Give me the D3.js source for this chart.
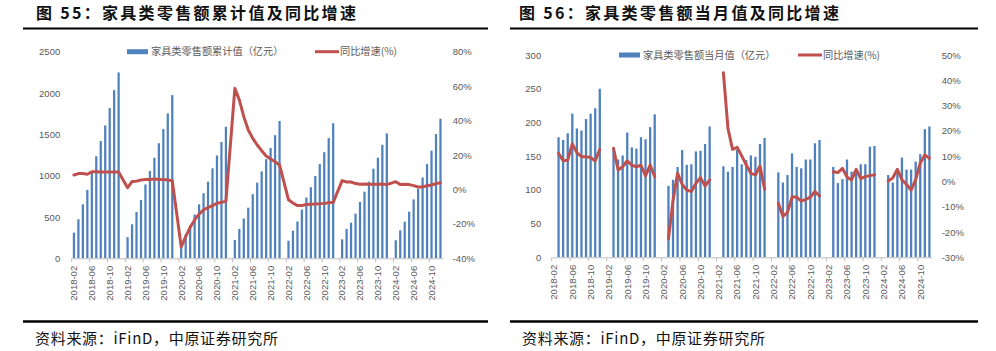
<!DOCTYPE html>
<html><head><meta charset="utf-8">
<script src="https://cdn.jsdelivr.net/npm/d3@7"></script>
<style>
html,body{margin:0;padding:0;background:#fff;}
svg{display:block;}
</style></head>
<body>
<svg id="c" width="996" height="351"></svg>
<script>
// ---------- DATA ----------
const categories = [
"2018-02","2018-03","2018-04","2018-05","2018-06","2018-07","2018-08","2018-09","2018-10","2018-11","2018-12",
"2019-01","2019-02","2019-03","2019-04","2019-05","2019-06","2019-07","2019-08","2019-09","2019-10","2019-11","2019-12",
"2020-01","2020-02","2020-03","2020-04","2020-05","2020-06","2020-07","2020-08","2020-09","2020-10","2020-11","2020-12",
"2021-01","2021-02","2021-03","2021-04","2021-05","2021-06","2021-07","2021-08","2021-09","2021-10","2021-11","2021-12",
"2022-01","2022-02","2022-03","2022-04","2022-05","2022-06","2022-07","2022-08","2022-09","2022-10","2022-11","2022-12",
"2023-01","2023-02","2023-03","2023-04","2023-05","2023-06","2023-07","2023-08","2023-09","2023-10","2023-11","2023-12",
"2024-01","2024-02","2024-03","2024-04","2024-05","2024-06","2024-07","2024-08","2024-09","2024-10","2024-11","2024-12"];

// Chart 55: cumulative retail sales (亿元) and cumulative YoY (%)
const cumValues = [
310,472,653,828,1036,1235,1419,1608,1818,2035,2249,
null,256,411,560,705,893,1056,1217,1392,1564,1753,1975,
null,175,290,400,530,653,788,927,1088,1244,1408,1592,
null,221,355,482,613,776,915,1052,1200,1335,1490,1661,
null,213,334,446,590,735,860,996,1140,1284,1455,1634,
null,230,355,431,540,681,806,927,1084,1217,1374,1511,
null,218,339,443,564,713,842,979,1140,1302,1503,1689];
const cumYoY = [
8.4,9.2,9.2,8.8,10.3,10.3,10.1,10.1,10.1,10.1,10.1,
null,1.0,4.6,4.8,5.5,5.8,5.8,6.0,5.8,5.7,5.5,5.1,
null,-33.4,-27.4,-22.0,-17.7,-14.3,-11.9,-10.6,-9.4,-8.0,-7.5,-6.9,
null,58.7,52.0,42.3,34.5,29.7,25.8,22.5,19.4,17.7,16.1,14.2,
null,-6.0,-7.9,-9.4,-9.3,-8.8,-8.6,-8.4,-8.3,-8.1,-7.8,-7.5,
null,5.1,4.3,4.3,3.4,3.0,3.2,3.0,3.0,3.0,3.2,2.8,
null,4.5,2.8,3.0,2.8,2.2,1.4,1.4,2.2,2.6,3.4,3.8];

// Chart 56: monthly retail sales (亿元) and monthly YoY (%)
const monValues = [
null,178,174,184,213,191,188,205,213,221,250,
null,null,160,145,151,185,163,161,178,175,193,212,
null,null,106,115,134,159,137,138,157,158,168,194,
null,null,135,127,134,159,138,144,151,149,168,177,
null,null,126,111,122,154,134,132,145,145,169,174,
null,null,134,110,116,145,127,131,138,138,164,165,
null,null,122,111,125,148,130,130,142,153,190,194];
const monYoY = [
null,11.1,8.2,8.4,14.8,11.4,9.8,9.8,9.5,8.1,12.7,
null,null,13.1,4.5,5.8,8.2,6.4,5.8,6.4,2.2,6.5,1.9,
null,null,-22.8,-7.5,3.2,-1.2,-3.4,-4.0,-0.7,1.5,-1.8,0.6,
null,null,43.0,21.0,12.7,13.5,10.1,6.5,3.2,2.6,6.1,-3.1,
null,null,-8.6,-13.8,-12.2,-6.2,-6.2,-7.8,-7.1,-6.2,-4.0,-5.7,
null,null,3.8,3.5,5.2,1.7,0.6,4.8,1.1,1.9,2.3,2.6,
null,null,0.2,1.4,4.8,0.7,-1.2,-3.4,0.7,7.3,10.5,9.1];

const leftTicks1 = [0,500,1000,1500,2000,2500];
const rightTicks1 = [-40,-20,0,20,40,60,80];
const leftTicks2 = [0,50,100,150,200,250,300];
const rightTicks2 = [-30,-20,-10,0,10,20,30,40,50];

const titles = ["图 55：家具类零售额累计值及同比增速","图 56：家具类零售额当月值及同比增速"];
const barLegends = ["家具类零售额累计值（亿元）","家具类零售额当月值（亿元）"];
const lineLegend = "同比增速(%)";
const sourceText = "资料来源：iFinD，中原证券研究所";

// ---------- DRAW ----------
const svg = d3.select("#c");
svg.append("rect").attr("width",996).attr("height",351).attr("fill","#fff");
const BLUE = "#4f81bd", RED = "#c0504d", GREY = "#595959";
const cjk = "'Noto Sans CJK SC','Noto Sans',sans-serif";
const lat = "'Liberation Sans',Arial,sans-serif";
const tickCats = categories.filter((c,i)=> i%4===0);

function drawPanel(o){
  const g = svg.append("g");
  // title
  g.append("text").attr("x",o.titleX).attr("y",18.5)
    .attr("font-family",cjk).attr("font-weight","bold").attr("font-size",16)
    .attr("letter-spacing","2.3px").attr("fill","#111").text(o.title);
  g.append("line").attr("x1",o.ruleX0).attr("x2",o.ruleX1).attr("y1",28.5).attr("y2",28.5)
    .attr("stroke","#000").attr("stroke-width",2);
  g.append("line").attr("x1",o.ruleX0).attr("x2",o.ruleX1).attr("y1",321.5).attr("y2",321.5)
    .attr("stroke","#000").attr("stroke-width",2.5);
  g.append("text").attr("x",o.srcX).attr("y",343.5)
    .attr("font-family",cjk).attr("font-size",15).attr("letter-spacing","0.7px")
    .attr("fill","#111").text(sourceText);

  const x = d3.scaleBand().domain(categories).range([o.x0,o.x1]).paddingInner(0.5).paddingOuter(0.25);
  const yL = d3.scaleLinear().domain(o.leftDomain).range([o.yB,o.yT]);
  const yR = d3.scaleLinear().domain(o.rightDomain).range([o.yB,o.yT]);

  // bars
  const bd = categories.map((c,i)=>({c,v:o.bars[i]})).filter(d=>d.v!=null);
  g.append("g").selectAll("rect").data(bd).join("rect")
    .attr("x",d=>x(d.c)).attr("width",x.bandwidth())
    .attr("y",d=>yL(d.v)).attr("height",d=>yL(0)-yL(d.v))
    .attr("fill",BLUE);

  // x axis
  const xa = g.append("g").attr("transform",`translate(0,${o.yB})`)
    .call(d3.axisBottom(x).tickValues(tickCats).tickSize(4).tickSizeOuter(0));
  xa.select(".domain").attr("stroke","#bfbfbf");
  xa.selectAll(".tick line").attr("stroke","#bfbfbf").attr("transform",`translate(${-x.step()/2},0)`);
  xa.selectAll(".tick text").attr("transform","rotate(-90)").attr("text-anchor","end")
    .attr("x",-7.5).attr("y",0).attr("dy","0.35em")
    .attr("font-family",lat).attr("font-size",9.5).attr("fill",GREY);

  // left axis
  const la = g.append("g").attr("transform",`translate(${o.x0},0)`)
    .call(d3.axisLeft(yL).tickValues(o.leftTicks).tickSize(0).tickPadding(o.padL).tickFormat(d=>String(d)));
  la.select(".domain").remove();
  la.selectAll("text").attr("font-family",lat).attr("font-size",9.5).attr("fill",GREY);
  // right axis
  const ra = g.append("g").attr("transform",`translate(${o.x1},0)`)
    .call(d3.axisRight(yR).tickValues(o.rightTicks).tickSize(0).tickPadding(o.padR).tickFormat(d=>d+"%"));
  ra.select(".domain").remove();
  ra.selectAll("text").attr("font-family",lat).attr("font-size",9.5).attr("fill",GREY);

  // line
  const ld = categories.map((c,i)=>({c,v:o.line[i]}));
  const lineGen = d3.line().x(d=>x(d.c)+x.bandwidth()/2).y(d=>yR(d.v));
  let path;
  if(o.connect){
    path = lineGen(ld.filter(d=>d.v!=null));
  } else {
    path = lineGen.defined(d=>d.v!=null)(ld);
  }
  g.append("path").attr("d",path).attr("fill","none").attr("stroke",RED)
    .attr("stroke-width",3).attr("stroke-linejoin","round").attr("stroke-linecap","round");

  // legend
  g.append("rect").attr("x",o.lg1).attr("y",o.lgY-2.5).attr("width",21).attr("height",5).attr("fill",BLUE);
  g.append("text").attr("x",o.lg1+24).attr("y",o.lgY).attr("dy","0.35em")
    .attr("font-family",cjk).attr("font-size",10.2).attr("fill",GREY).text(o.barLegend);
  g.append("line").attr("x1",o.lg2).attr("x2",o.lg2+24).attr("y1",o.lgY).attr("y2",o.lgY)
    .attr("stroke",RED).attr("stroke-width",3);
  g.append("text").attr("x",o.lg2+25).attr("y",o.lgY).attr("dy","0.35em")
    .attr("font-family",cjk).attr("font-size",10.2).attr("fill",GREY).text(lineLegend);
}

drawPanel({title:titles[0], titleX:36, ruleX0:23, ruleX1:488, srcX:35,
  x0:71.7, x1:442.7, yT:51.7, yB:258.3,
  leftDomain:[0,2500], rightDomain:[-40,80], leftTicks:leftTicks1, rightTicks:rightTicks1,
  padL:11.5, padR:10, bars:cumValues, line:cumYoY, connect:true,
  barLegend:barLegends[0], lg1:127, lg2:315, lgY:51.7});

drawPanel({title:titles[1], titleX:519, ruleX0:510, ruleX1:978, srcX:522,
  x0:551.7, x1:931.7, yT:55, yB:257.3,
  leftDomain:[0,300], rightDomain:[-30,50], leftTicks:leftTicks2, rightTicks:rightTicks2,
  padL:10.5, padR:10, bars:monValues, line:monYoY, connect:false,
  barLegend:barLegends[1], lg1:619, lg2:798, lgY:55});
</script>
</body></html>
